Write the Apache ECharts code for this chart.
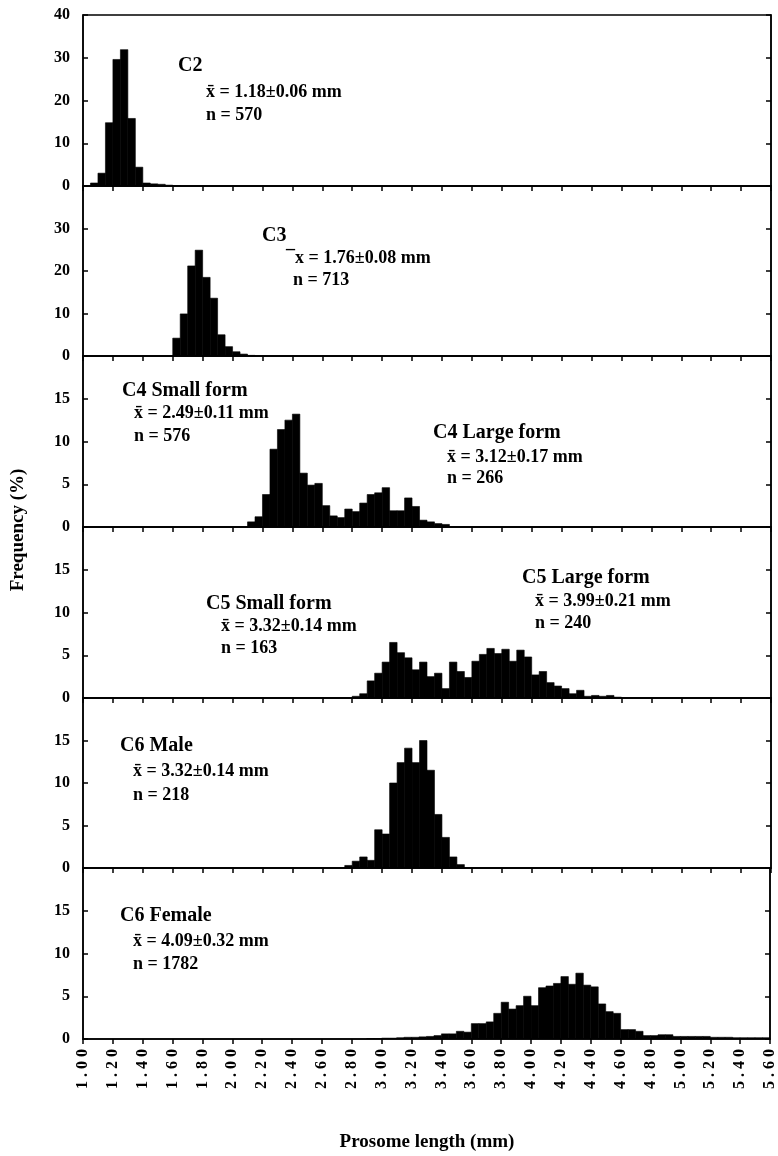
<!DOCTYPE html>
<html>
<head>
<meta charset="utf-8">
<title>Prosome length frequency</title>
<script src="https://cdn.jsdelivr.net/npm/echarts@6/dist/echarts.min.js"></script>
<style>
  html, body { margin: 0; padding: 0; background: #fff; }
  #chart { width: 778px; height: 1156px; }
</style>
</head>
<body>
<div id="chart"></div>
<script>
// histogram bin width (mm) and x axis range
var binWidth = 0.05;
var xMin = 1.0, xMax = 5.6, xStep = 0.2;

// C2
var c2Start = [1.05, 1.10, 1.15, 1.20, 1.25, 1.30, 1.35, 1.40, 1.45, 1.50, 1.55, 1.60];
var c2Freq  = [0.7, 3.0, 14.8, 29.6, 31.9, 15.8, 4.4, 0.7, 0.5, 0.4, 0.2, 0.1];

// C3
var c3Start = [1.60, 1.65, 1.70, 1.75, 1.80, 1.85, 1.90, 1.95, 2.00, 2.05, 2.10];
var c3Freq  = [4.2, 9.9, 21.2, 24.9, 18.5, 13.6, 5.0, 2.2, 1.0, 0.45, 0.15];

// C4 (small + large form)
var c4Start = [2.10, 2.15, 2.20, 2.25, 2.30, 2.35, 2.40, 2.45, 2.50, 2.55, 2.60, 2.65, 2.70, 2.75,
               2.80, 2.85, 2.90, 2.95, 3.00, 3.05, 3.10, 3.15, 3.20, 3.25, 3.30, 3.35, 3.40];
var c4Freq  = [0.6, 1.2, 3.8, 9.1, 11.4, 12.5, 13.2, 6.3, 4.9, 5.1, 2.5, 1.3, 1.1, 2.1,
               1.8, 2.8, 3.8, 4.0, 4.6, 1.9, 1.9, 3.4, 2.4, 0.8, 0.6, 0.4, 0.3];

// C5 (small + large form)
var c5Start = [2.80, 2.85, 2.90, 2.95, 3.00, 3.05, 3.10, 3.15, 3.20, 3.25, 3.30, 3.35,
               3.40, 3.45, 3.50, 3.55, 3.60, 3.65, 3.70, 3.75, 3.80, 3.85, 3.90, 3.95,
               4.00, 4.05, 4.10, 4.15, 4.20, 4.25, 4.30, 4.35, 4.40, 4.45, 4.50, 4.55];
var c5Freq  = [0.2, 0.5, 2.0, 2.9, 4.2, 6.5, 5.3, 4.7, 3.3, 4.2, 2.5, 2.9,
               1.1, 4.2, 3.1, 2.4, 4.3, 5.1, 5.8, 5.2, 5.7, 4.3, 5.6, 4.8,
               2.7, 3.1, 1.8, 1.4, 1.1, 0.5, 0.9, 0.2, 0.3, 0.2, 0.3, 0.1];

// C6 male
var c6mStart = [2.75, 2.80, 2.85, 2.90, 2.95, 3.00, 3.05, 3.10, 3.15, 3.20, 3.25, 3.30,
                3.35, 3.40, 3.45, 3.50];
var c6mFreq  = [0.3, 0.8, 1.3, 0.9, 4.5, 4.0, 10.0, 12.4, 14.1, 12.4, 15.0, 11.5,
                6.3, 3.6, 1.3, 0.4];

// C6 female
var c6fStart = [2.90, 2.95, 3.00, 3.05, 3.10, 3.15, 3.20, 3.25, 3.30, 3.35, 3.40, 3.45,
                3.50, 3.55, 3.60, 3.65, 3.70, 3.75, 3.80, 3.85, 3.90, 3.95, 4.00, 4.05,
                4.10, 4.15, 4.20, 4.25, 4.30, 4.35, 4.40, 4.45, 4.50, 4.55, 4.60, 4.65,
                4.70, 4.75, 4.80, 4.85, 4.90, 4.95, 5.00, 5.05, 5.10, 5.15, 5.20, 5.25,
                5.30, 5.35, 5.40, 5.45, 5.50, 5.55];
var c6fFreq  = [0.05, 0.05, 0.1, 0.1, 0.15, 0.2, 0.2, 0.25, 0.3, 0.4, 0.6, 0.6,
                0.9, 0.8, 1.8, 1.8, 2.0, 3.0, 4.3, 3.5, 3.9, 5.0, 3.9, 6.0,
                6.2, 6.5, 7.3, 6.4, 7.7, 6.3, 6.1, 4.1, 3.2, 3.0, 1.1, 1.1,
                0.9, 0.4, 0.4, 0.5, 0.5, 0.3, 0.3, 0.3, 0.3, 0.3, 0.2, 0.2,
                0.2, 0.15, 0.15, 0.15, 0.15, 0.15];

// panel annotations: [text, x, y, fontSize]
var labelsText = [
  ['C2', 178, 66, 20], ['x\u0304 = 1.18\u00b10.06 mm', 206, 92, 18], ['n = 570', 206, 115, 18],
  ['C3', 262, 236, 20], ['\u00afx = 1.76\u00b10.08 mm', 286, 258, 18], ['n = 713', 293, 280, 18],
  ['C4 Small form', 122, 391, 20], ['x\u0304 = 2.49\u00b10.11 mm', 134, 413, 18], ['n = 576', 134, 436, 18],
  ['C4 Large form', 433, 433, 20], ['x\u0304 = 3.12\u00b10.17 mm', 447, 457, 18], ['n = 266', 447, 478, 18],
  ['C5 Small form', 206, 604, 20], ['x\u0304 = 3.32\u00b10.14 mm', 221, 626, 18], ['n = 163', 221, 648, 18],
  ['C5 Large form', 522, 578, 20], ['x\u0304 = 3.99\u00b10.21 mm', 535, 601, 18], ['n = 240', 535, 623, 18],
  ['C6 Male', 120, 746, 20], ['x\u0304 = 3.32\u00b10.14 mm', 133, 771, 18], ['n = 218', 133, 795, 18],
  ['C6 Female', 120, 916, 20], ['x\u0304 = 4.09\u00b10.32 mm', 133, 941, 18], ['n = 1782', 133, 964, 18]
];

var FONT = '"Liberation Serif", "Times New Roman", serif';

var panels = [
  { start: c2Start,  freq: c2Freq,  yMax: 40, yStep: 10, top: 15,  height: 171, showMax: true },
  { start: c3Start,  freq: c3Freq,  yMax: 40, yStep: 10, top: 186, height: 170, showMax: false },
  { start: c4Start,  freq: c4Freq,  yMax: 20, yStep: 5,  top: 356, height: 171, showMax: false },
  { start: c5Start,  freq: c5Freq,  yMax: 20, yStep: 5,  top: 527, height: 171, showMax: false },
  { start: c6mStart, freq: c6mFreq, yMax: 20, yStep: 5,  top: 698, height: 170, showMax: false },
  { start: c6fStart, freq: c6fFreq, yMax: 20, yStep: 5,  top: 868, height: 171, showMax: false }
];

// one rect per bin, from its lower edge to lower edge + binWidth
function renderBin(params, api) {
  var lo = api.value(0);
  var f = api.value(1);
  var a = api.coord([lo, 0]);
  var b = api.coord([lo + binWidth, f]);
  return {
    type: 'rect',
    shape: { x: a[0], y: b[1], width: b[0] - a[0], height: a[1] - b[1] },
    style: { fill: '#000', stroke: '#000', lineWidth: 0.6 }
  };
}

// spaced-out tick label, one rich token per character
function spacedLabel(v) {
  return v.toFixed(2).split('').map(function (c) { return '{d|' + c + '}'; }).join('');
}

var grids = [], xAxes = [], yAxes = [], series = [];
var axisLineStyle = { color: '#000', width: 1.5 };

panels.forEach(function (p, i) {
  grids.push({
    left: 83, right: 7, top: p.top, height: p.height,
    show: true, borderColor: '#000', borderWidth: 1.5
  });
  xAxes.push({
    gridIndex: i, type: 'value', min: xMin, max: xMax, interval: xStep,
    axisLine: { show: true, lineStyle: axisLineStyle },
    axisTick: { show: true, inside: false, length: 5, lineStyle: axisLineStyle },
    splitLine: { show: false },
    axisLabel: {
      show: i === panels.length - 1, rotate: 90, margin: 8,
      color: '#000', fontFamily: FONT, fontWeight: 'bold', fontSize: 16,
      formatter: spacedLabel,
      rich: {
        d: { color: '#000', fontFamily: FONT, fontWeight: 'bold', fontSize: 16, padding: [0, 2] }
      }
    }
  });
  // left axis with labels
  yAxes.push({
    gridIndex: i, type: 'value', position: 'left', min: 0, max: p.yMax, interval: p.yStep,
    axisLine: { show: true, lineStyle: axisLineStyle },
    axisTick: { show: true, inside: true, length: 5, lineStyle: axisLineStyle },
    splitLine: { show: false },
    axisLabel: {
      margin: 13, color: '#000', fontFamily: FONT, fontWeight: 'bold', fontSize: 16,
      formatter: function (v) { return (v === p.yMax && !p.showMax) ? '' : String(v); }
    }
  });
  // right axis, ticks only
  yAxes.push({
    gridIndex: i, type: 'value', position: 'right', min: 0, max: p.yMax, interval: p.yStep,
    axisLine: { show: true, lineStyle: axisLineStyle },
    axisTick: { show: true, inside: true, length: 5, lineStyle: axisLineStyle },
    splitLine: { show: false },
    axisLabel: { show: false }
  });
  var data = p.start.map(function (s, k) { return [s, p.freq[k]]; });
  series.push({
    type: 'custom', xAxisIndex: i, yAxisIndex: 2 * i,
    renderItem: renderBin, encode: { x: 0, y: 1 },
    data: data, clip: true, silent: true
  });
});

var graphics = labelsText.map(function (t) {
  return {
    type: 'text', x: t[1], y: t[2], silent: true,
    style: {
      text: t[0], fill: '#000', align: 'left', verticalAlign: 'middle',
      font: 'bold ' + t[3] + 'px ' + FONT
    }
  };
});
graphics.push({
  type: 'text', x: 18, y: 530, rotation: Math.PI / 2, silent: true,
  style: { text: 'Frequency (%)', fill: '#000', align: 'center', verticalAlign: 'middle',
           font: 'bold 19px ' + FONT }
});
graphics.push({
  type: 'text', x: 427, y: 1142, silent: true,
  style: { text: 'Prosome length (mm)', fill: '#000', align: 'center', verticalAlign: 'middle',
           font: 'bold 19px ' + FONT }
});

var option = {
  backgroundColor: '#fff',
  animation: false,
  grid: grids,
  xAxis: xAxes,
  yAxis: yAxes,
  series: series,
  graphic: graphics
};

var chart = echarts.init(document.getElementById('chart'), null, { renderer: 'canvas' });
chart.setOption(option);
</script>
</body>
</html>
